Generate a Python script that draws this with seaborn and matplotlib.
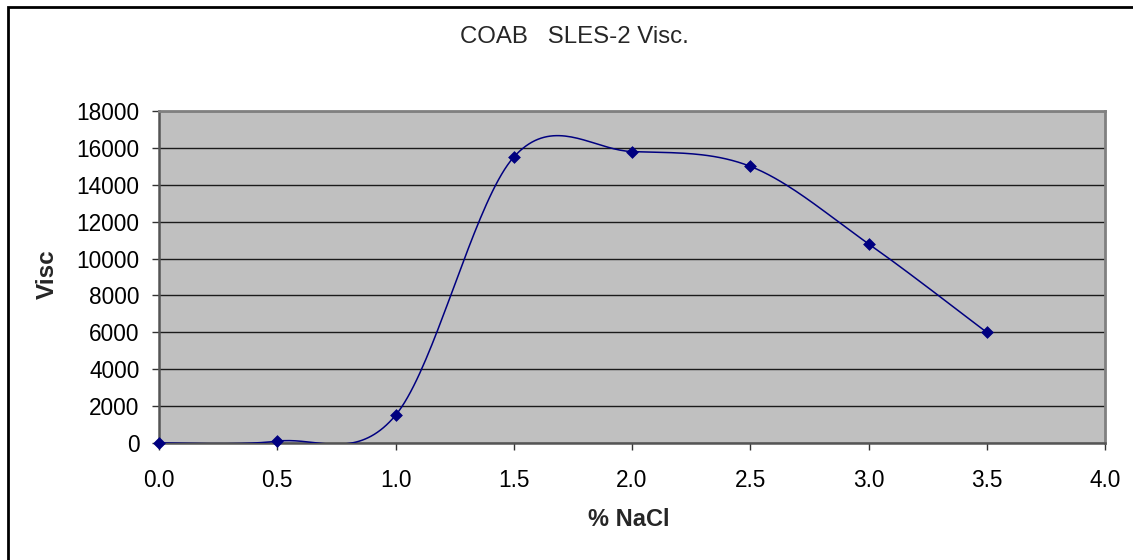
import numpy as np
import pandas as pd
import matplotlib
matplotlib.use("Agg")
import matplotlib.pyplot as plt
import seaborn as sns
from matplotlib.patches import Rectangle

# ---- data ----
nacl = [0.0, 0.5, 1.0, 1.5, 2.0, 2.5, 3.0, 3.5]
visc = [0, 100, 1500, 15500, 15800, 15000, 10800, 6000]
title_text = "COAB   SLES-2 Visc."
x_label = "% NaCl"
y_label = "Visc"
x_ticks = [0.0, 0.5, 1.0, 1.5, 2.0, 2.5, 3.0, 3.5, 4.0]
x_ticklabels = ["0.0", "0.5", "1.0", "1.5", "2.0", "2.5", "3.0", "3.5", "4.0"]
y_ticks = [0, 2000, 4000, 6000, 8000, 10000, 12000, 14000, 16000, 18000]


def excel_smooth(xs, ys, n=40):
    """Excel-style smoothed line: cubic Bezier with Catmull-Rom (1/6) control points."""
    P = np.column_stack([xs, ys]).astype(float)
    ext = np.vstack([P[0], P, P[-1]])
    out = []
    t = np.linspace(0, 1, n)[:, None]
    for i in range(len(P) - 1):
        p0, p1, p2, p3 = ext[i], ext[i + 1], ext[i + 2], ext[i + 3]
        c1 = p1 + (p2 - p0) / 6.0
        c2 = p2 - (p3 - p1) / 6.0
        seg = ((1 - t) ** 3) * p1 + 3 * ((1 - t) ** 2) * t * c1 + 3 * (1 - t) * (t ** 2) * c2 + (t ** 3) * p2
        out.append(seg if i == 0 else seg[1:])
    return np.vstack(out)


sns.set_style("white")
plt.rcParams["font.family"] = ["Liberation Sans", "DejaVu Sans"]

W, H = 1133, 560
fig = plt.figure(figsize=(W / 100, H / 100), dpi=100)
fig.patch.set_facecolor("white")

L, R, T, B = 159, 1105, 111, 443
ax = fig.add_axes([L / W, (H - B) / H, (R - L) / W, (B - T) / H])
ax.set_facecolor("#C0C0C0")

navy = "#000080"
curve = excel_smooth(nacl, visc)
curve_df = pd.DataFrame({"x": curve[:, 0], "y": curve[:, 1]})
pts_df = pd.DataFrame({"x": nacl, "y": visc})

sns.lineplot(data=curve_df, x="x", y="y", ax=ax, color=navy, lw=1.1,
             sort=False, estimator=None, zorder=3)
sns.scatterplot(data=pts_df, x="x", y="y", ax=ax, color=navy, marker="D",
                s=36, edgecolor=navy, linewidth=0.5, zorder=4, clip_on=False)

ax.set_xlim(0, 4)
ax.set_ylim(0, 18000)
ax.set_xticks(x_ticks)
ax.set_xticklabels(x_ticklabels)
ax.set_yticks(y_ticks)
ax.set_yticklabels([str(v) for v in y_ticks])

ax.yaxis.grid(True, color="#1a1a1a", lw=1.0)
ax.xaxis.grid(False)
ax.set_axisbelow(True)

for side in ["top", "right"]:
    ax.spines[side].set_color("#808080")
    ax.spines[side].set_linewidth(2)
for side in ["left", "bottom"]:
    ax.spines[side].set_color("#555555")
    ax.spines[side].set_linewidth(1.8)
for s in ax.spines.values():
    s.set_visible(True)

ax.tick_params(axis="both", direction="out", length=5, width=1, color="#333333",
               labelsize=16.3, labelcolor="black")
ax.tick_params(axis="y", pad=9)
ax.tick_params(axis="x", pad=14)
ax.tick_params(left=True, bottom=True)

ax.set_xlabel(x_label, fontsize=17, fontweight="bold")
ax.set_ylabel(y_label, fontsize=17.5, fontweight="bold")
ax.xaxis.set_label_coords((629 - L) / (R - L), (B - 520) / (B - T))
ax.yaxis.set_label_coords((47 - L) / (R - L), (B - 274) / (B - T))
ax.xaxis.label.set_va("center")
ax.yaxis.label.set_va("center")

fig.text(574 / W, 1 - 37 / H, title_text, ha="center", va="center", fontsize=17.3)

# outer chart border
fig.patches.append(Rectangle((8 / W, -0.1), 1.2, 1 - 7 / H + 0.1, transform=fig.transFigure,
                             fill=False, edgecolor="black", lw=2, zorder=10))

fig.savefig("out.png", dpi=100)
